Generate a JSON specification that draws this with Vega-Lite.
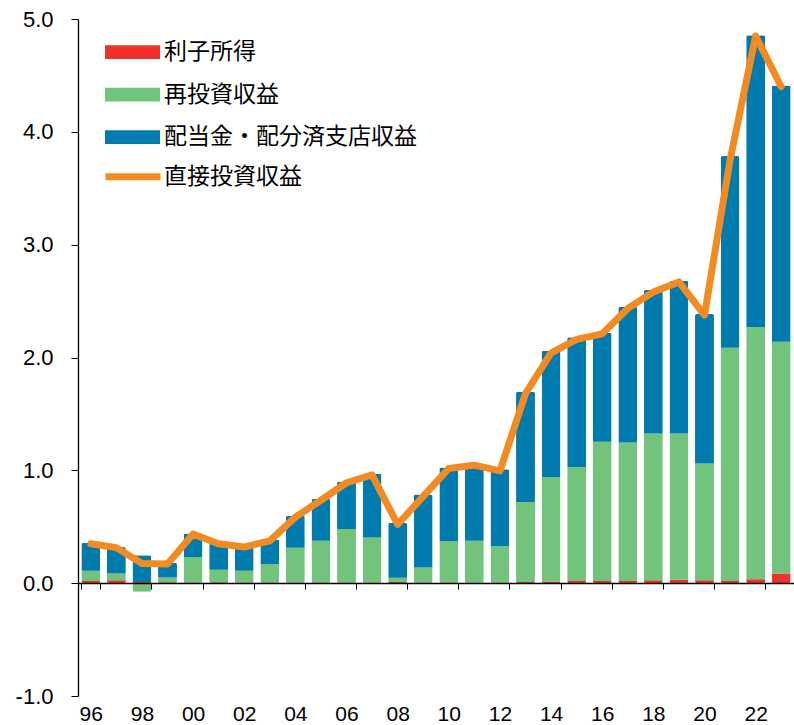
{
  "$schema": "https://vega.github.io/schema/vega-lite/v6.json",
  "autosize": "none",
  "width": 716,
  "height": 677,
  "padding": {"left": 78, "top": 19, "right": 0, "bottom": 29},
  "background": "white",
  "config": {"view": {"stroke": null}},
  "datasets": {
    "bars": [
      {"year": 1996, "series": "利子所得", "value": 0.02},
      {"year": 1996, "series": "再投資収益", "value": 0.09},
      {"year": 1996, "series": "配当金・配分済支店収益", "value": 0.247},
      {"year": 1997, "series": "利子所得", "value": 0.025},
      {"year": 1997, "series": "再投資収益", "value": 0.061},
      {"year": 1997, "series": "配当金・配分済支店収益", "value": 0.234},
      {"year": 1998, "series": "利子所得", "value": 0.01},
      {"year": 1998, "series": "再投資収益", "value": -0.077},
      {"year": 1998, "series": "配当金・配分済支店収益", "value": 0.238},
      {"year": 1999, "series": "利子所得", "value": 0.008},
      {"year": 1999, "series": "再投資収益", "value": 0.042},
      {"year": 1999, "series": "配当金・配分済支店収益", "value": 0.13},
      {"year": 2000, "series": "利子所得", "value": 0.005},
      {"year": 2000, "series": "再投資収益", "value": 0.228},
      {"year": 2000, "series": "配当金・配分済支店収益", "value": 0.207},
      {"year": 2001, "series": "利子所得", "value": 0.008},
      {"year": 2001, "series": "再投資収益", "value": 0.112},
      {"year": 2001, "series": "配当金・配分済支店収益", "value": 0.246},
      {"year": 2002, "series": "利子所得", "value": 0.005},
      {"year": 2002, "series": "再投資収益", "value": 0.105},
      {"year": 2002, "series": "配当金・配分済支店収益", "value": 0.218},
      {"year": 2003, "series": "利子所得", "value": 0.005},
      {"year": 2003, "series": "再投資収益", "value": 0.163},
      {"year": 2003, "series": "配当金・配分済支店収益", "value": 0.219},
      {"year": 2004, "series": "利子所得", "value": 0.005},
      {"year": 2004, "series": "再投資収益", "value": 0.308},
      {"year": 2004, "series": "配当金・配分済支店収益", "value": 0.284},
      {"year": 2005, "series": "利子所得", "value": 0.005},
      {"year": 2005, "series": "再投資収益", "value": 0.37},
      {"year": 2005, "series": "配当金・配分済支店収益", "value": 0.372},
      {"year": 2006, "series": "利子所得", "value": 0.005},
      {"year": 2006, "series": "再投資収益", "value": 0.475},
      {"year": 2006, "series": "配当金・配分済支店収益", "value": 0.42},
      {"year": 2007, "series": "利子所得", "value": 0.005},
      {"year": 2007, "series": "再投資収益", "value": 0.40},
      {"year": 2007, "series": "配当金・配分済支店収益", "value": 0.565},
      {"year": 2008, "series": "利子所得", "value": 0.01},
      {"year": 2008, "series": "再投資収益", "value": 0.037},
      {"year": 2008, "series": "配当金・配分済支店収益", "value": 0.488},
      {"year": 2009, "series": "利子所得", "value": 0.005},
      {"year": 2009, "series": "再投資収益", "value": 0.134},
      {"year": 2009, "series": "配当金・配分済支店収益", "value": 0.647},
      {"year": 2010, "series": "利子所得", "value": 0.005},
      {"year": 2010, "series": "再投資収益", "value": 0.367},
      {"year": 2010, "series": "配当金・配分済支店収益", "value": 0.654},
      {"year": 2011, "series": "利子所得", "value": 0.003},
      {"year": 2011, "series": "再投資収益", "value": 0.372},
      {"year": 2011, "series": "配当金・配分済支店収益", "value": 0.686},
      {"year": 2012, "series": "利子所得", "value": 0.005},
      {"year": 2012, "series": "再投資収益", "value": 0.323},
      {"year": 2012, "series": "配当金・配分済支店収益", "value": 0.682},
      {"year": 2013, "series": "利子所得", "value": 0.01},
      {"year": 2013, "series": "再投資収益", "value": 0.71},
      {"year": 2013, "series": "配当金・配分済支店収益", "value": 0.976},
      {"year": 2014, "series": "利子所得", "value": 0.015},
      {"year": 2014, "series": "再投資収益", "value": 0.927},
      {"year": 2014, "series": "配当金・配分済支店収益", "value": 1.118},
      {"year": 2015, "series": "利子所得", "value": 0.02},
      {"year": 2015, "series": "再投資収益", "value": 1.01},
      {"year": 2015, "series": "配当金・配分済支店収益", "value": 1.15},
      {"year": 2016, "series": "利子所得", "value": 0.02},
      {"year": 2016, "series": "再投資収益", "value": 1.233},
      {"year": 2016, "series": "配当金・配分済支店収益", "value": 0.967},
      {"year": 2017, "series": "利子所得", "value": 0.02},
      {"year": 2017, "series": "再投資収益", "value": 1.227},
      {"year": 2017, "series": "配当金・配分済支店収益", "value": 1.203},
      {"year": 2018, "series": "利子所得", "value": 0.025},
      {"year": 2018, "series": "再投資収益", "value": 1.302},
      {"year": 2018, "series": "配当金・配分済支店収益", "value": 1.273},
      {"year": 2019, "series": "利子所得", "value": 0.03},
      {"year": 2019, "series": "再投資収益", "value": 1.297},
      {"year": 2019, "series": "配当金・配分済支店収益", "value": 1.353},
      {"year": 2020, "series": "利子所得", "value": 0.025},
      {"year": 2020, "series": "再投資収益", "value": 1.036},
      {"year": 2020, "series": "配当金・配分済支店収益", "value": 1.324},
      {"year": 2021, "series": "利子所得", "value": 0.02},
      {"year": 2021, "series": "再投資収益", "value": 2.066},
      {"year": 2021, "series": "配当金・配分済支店収益", "value": 1.699},
      {"year": 2022, "series": "利子所得", "value": 0.035},
      {"year": 2022, "series": "再投資収益", "value": 2.235},
      {"year": 2022, "series": "配当金・配分済支店収益", "value": 2.585},
      {"year": 2023, "series": "利子所得", "value": 0.086},
      {"year": 2023, "series": "再投資収益", "value": 2.054},
      {"year": 2023, "series": "配当金・配分済支店収益", "value": 2.27}
    ],
    "line": [
      {"year": 1996, "series": "直接投資収益", "value": 0.35},
      {"year": 1997, "series": "直接投資収益", "value": 0.315},
      {"year": 1998, "series": "直接投資収益", "value": 0.175},
      {"year": 1999, "series": "直接投資収益", "value": 0.17},
      {"year": 2000, "series": "直接投資収益", "value": 0.435},
      {"year": 2001, "series": "直接投資収益", "value": 0.35},
      {"year": 2002, "series": "直接投資収益", "value": 0.32},
      {"year": 2003, "series": "直接投資収益", "value": 0.375},
      {"year": 2004, "series": "直接投資収益", "value": 0.585},
      {"year": 2005, "series": "直接投資収益", "value": 0.735},
      {"year": 2006, "series": "直接投資収益", "value": 0.89},
      {"year": 2007, "series": "直接投資収益", "value": 0.96},
      {"year": 2008, "series": "直接投資収益", "value": 0.52},
      {"year": 2009, "series": "直接投資収益", "value": 0.77},
      {"year": 2010, "series": "直接投資収益", "value": 1.017},
      {"year": 2011, "series": "直接投資収益", "value": 1.046},
      {"year": 2012, "series": "直接投資収益", "value": 0.995},
      {"year": 2013, "series": "直接投資収益", "value": 1.68},
      {"year": 2014, "series": "直接投資収益", "value": 2.04},
      {"year": 2015, "series": "直接投資収益", "value": 2.16},
      {"year": 2016, "series": "直接投資収益", "value": 2.21},
      {"year": 2017, "series": "直接投資収益", "value": 2.435},
      {"year": 2018, "series": "直接投資収益", "value": 2.58},
      {"year": 2019, "series": "直接投資収益", "value": 2.67},
      {"year": 2020, "series": "直接投資収益", "value": 2.376},
      {"year": 2021, "series": "直接投資収益", "value": 3.75},
      {"year": 2022, "series": "直接投資収益", "value": 4.85},
      {"year": 2023, "series": "直接投資収益", "value": 4.40}
    ]
  },
  "encoding": {
    "x": {
      "field": "year",
      "type": "ordinal",
      "scale": {"paddingInner": 0.26, "paddingOuter": 0.13},
      "axis": {
        "title": null,
        "offset": -113,
        "zindex": 1,
        "values": [1996, 1998, 2000, 2002, 2004, 2006, 2008, 2010, 2012, 2014, 2016, 2018, 2020, 2022],
        "labelExpr": "slice(datum.label, 2)",
        "labelAngle": 0,
        "labelFont": "Liberation Sans",
        "labelFontSize": 21,
        "labelColor": "black",
        "labelPadding": 114,
        "tickBand": "extent",
        "tickSize": 6,
        "tickColor": "black",
        "domainColor": "black",
        "domainWidth": 1.3,
        "grid": false
      }
    }
  },
  "layer": [
    {
      "data": {"name": "bars"},
      "transform": [
        {"calculate": "indexof(['利子所得','再投資収益','配当金・配分済支店収益'], datum.series)", "as": "stackIndex"}
      ],
      "mark": {"type": "bar", "cornerRadius": 2},
      "encoding": {
        "y": {
          "field": "value",
          "type": "quantitative",
          "stack": "zero",
          "scale": {"domain": [-1, 5], "nice": false},
          "axis": {
            "title": null,
            "values": [-1, 0, 1, 2, 3, 4, 5],
            "labelExpr": "datum.value < 0 ? '-' + format(-datum.value, '.1f') : format(datum.value, '.1f')",
            "labelFont": "Liberation Sans",
            "labelFontSize": 22,
            "labelColor": "black",
            "labelPadding": 18,
            "tickSize": 7,
            "tickColor": "black",
            "domainColor": "black",
            "domainWidth": 1.3,
            "grid": false
          }
        },
        "fill": {
          "field": "series",
          "type": "nominal",
          "scale": {
            "domain": ["利子所得", "再投資収益", "配当金・配分済支店収益"],
            "range": ["#EE312B", "#72C37B", "#007BAE"]
          },
          "legend": {
            "title": null,
            "orient": "none",
            "legendX": 27,
            "legendY": 5.5,
            "padding": 0,
            "symbolType": "M-1,-0.25H1V0.25H-1Z",
            "symbolSize": 3025,
            "symbolStrokeWidth": 0,
            "labelFont": "Noto Sans CJK JP",
            "labelFontSize": 23,
            "labelColor": "black",
            "labelOffset": 4,
            "labelLimit": 0,
            "rowPadding": 2.5
          }
        },
        "order": {"field": "stackIndex", "sort": "ascending"}
      }
    },
    {
      "data": {"name": "line"},
      "mark": {"type": "line", "strokeWidth": 7, "strokeCap": "round", "strokeJoin": "round"},
      "encoding": {
        "y": {"field": "value", "type": "quantitative"},
        "stroke": {
          "field": "series",
          "type": "nominal",
          "scale": {"domain": ["直接投資収益"], "range": ["#F28C22"]},
          "legend": {
            "title": null,
            "orient": "none",
            "legendX": 24,
            "legendY": 126.7,
            "padding": 0,
            "symbolType": "stroke",
            "symbolSize": 3025,
            "symbolStrokeWidth": 7,
            "labelFont": "Noto Sans CJK JP",
            "labelFontSize": 23,
            "labelColor": "black",
            "labelOffset": 0,
            "labelLimit": 0
          }
        }
      }
    }
  ]
}
